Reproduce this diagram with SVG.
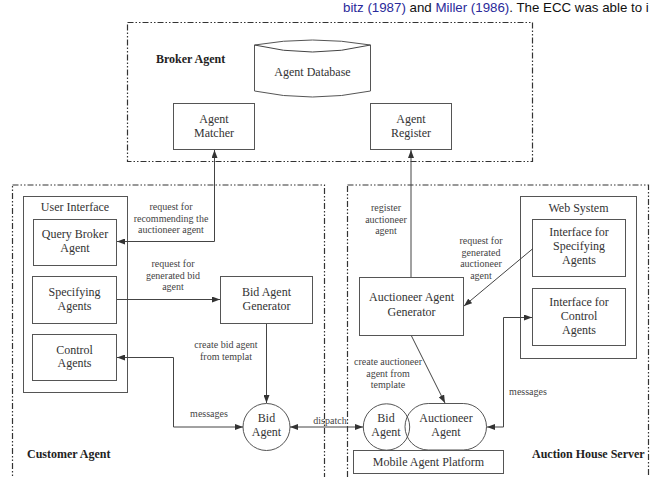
<svg xmlns="http://www.w3.org/2000/svg" width="657" height="477" viewBox="0 0 657 477">
<defs>
<marker id="ah" viewBox="0 0 8 6" refX="8" refY="3" markerWidth="8" markerHeight="6" markerUnits="userSpaceOnUse" orient="auto-start-reverse">
<path d="M0,0 L8,3 L0,6 z" fill="#333"/>
</marker>
<style>
.t{font-family:"Liberation Serif","Times New Roman",serif;font-size:12px;fill:#333;text-anchor:middle}
.l{font-family:"Liberation Serif","Times New Roman",serif;font-size:10px;fill:#444;text-anchor:middle}
.b{font-family:"Liberation Serif","Times New Roman",serif;font-size:12px;font-weight:bold;fill:#222}
.box{fill:#fff;stroke:#555;stroke-width:1}
.grp{fill:none;stroke:#333;stroke-width:1.2;stroke-dasharray:6 2 1.5 2 1.5 2}
.c{fill:none;stroke:#444;stroke-width:1}
.pg{font-family:"Liberation Sans",Arial,sans-serif;font-size:13.3px;fill:#111}
</style>
</defs>
<rect width="657" height="477" fill="#fff"/>
<text class="pg" x="343" y="12"><tspan fill="#2a2a9a">bitz (1987)</tspan> and <tspan fill="#2a2a9a">Miller (1986)</tspan>. The ECC was able to i</text>

<g id="broker-agent">
<rect class="grp" x="127.5" y="22.5" width="405" height="139"/>
<text class="b" x="156" y="63">Broker Agent</text>
</g>
<g id="customer-agent">
<rect class="grp" x="12.5" y="185" width="312" height="310"/>
<text class="b" x="27" y="458">Customer Agent</text>
</g>
<g id="auction-house-server">
<rect class="grp" x="347.5" y="185" width="301" height="310"/>
<text class="b" x="532" y="458">Auction House Server</text>
</g>

<g id="agent-database">
<path class="box" d="M254.5,45 Q312.5,35 370.5,45 L370.5,91 Q312.5,103 254.5,91 Z"/>
<path class="c" d="M254.5,45 Q312.5,59 370.5,45"/>
<text class="t" x="312.5" y="76">Agent Database</text>
</g>
<g id="agent-matcher">
<rect class="box" x="173.5" y="103.5" width="81" height="46"/>
<text class="t" x="214" y="123">Agent</text>
<text class="t" x="214" y="137">Matcher</text>
</g>
<g id="agent-register">
<rect class="box" x="370.5" y="103.5" width="81" height="46"/>
<text class="t" x="411" y="123">Agent</text>
<text class="t" x="411" y="137">Register</text>
</g>

<g id="user-interface">
<rect class="box" x="23.5" y="196.5" width="104" height="196"/>
<text class="t" x="75" y="211">User Interface</text>
</g>
<g id="query-broker-agent">
<rect class="box" x="33.5" y="219.5" width="83" height="46"/>
<text class="t" x="75" y="238">Query Broker</text>
<text class="t" x="75" y="252">Agent</text>
</g>
<g id="specifying-agents">
<rect class="box" x="32.5" y="276.5" width="84" height="47"/>
<text class="t" x="74.5" y="296">Specifying</text>
<text class="t" x="74.5" y="310">Agents</text>
</g>
<g id="control-agents">
<rect class="box" x="32.5" y="334.5" width="84" height="46"/>
<text class="t" x="74.5" y="354">Control</text>
<text class="t" x="74.5" y="367">Agents</text>
</g>
<g id="bid-agent-generator">
<rect class="box" x="220.5" y="276.5" width="92" height="47"/>
<text class="t" x="266.5" y="296">Bid Agent</text>
<text class="t" x="266.5" y="310">Generator</text>
</g>
<g id="bid-agent-customer">
<circle class="box" cx="266.5" cy="427" r="23.5"/>
<text class="t" x="266.5" y="422">Bid</text>
<text class="t" x="266.5" y="436">Agent</text>
</g>

<g id="web-system">
<rect class="box" x="520.5" y="196.5" width="116" height="162"/>
<text class="t" x="578.5" y="212">Web System</text>
</g>
<g id="interface-specifying">
<rect class="box" x="532.5" y="219.5" width="93" height="57"/>
<text class="t" x="579" y="236">Interface for</text>
<text class="t" x="579" y="250">Specifying</text>
<text class="t" x="579" y="264">Agents</text>
</g>
<g id="interface-control">
<rect class="box" x="532.5" y="288.5" width="93" height="57"/>
<text class="t" x="579" y="306">Interface for</text>
<text class="t" x="579" y="320">Control</text>
<text class="t" x="579" y="334">Agents</text>
</g>
<g id="auctioneer-agent-generator">
<rect class="box" x="359.5" y="277.5" width="104" height="58"/>
<text class="t" x="411.5" y="301">Auctioneer Agent</text>
<text class="t" x="411.5" y="316">Generator</text>
</g>
<g id="auctioneer-agent">
<rect class="box" x="405" y="403.5" width="81.5" height="46.5" rx="23.25" ry="23.25"/>
<text class="t" x="446" y="422">Auctioneer</text>
<text class="t" x="446" y="436">Agent</text>
</g>
<g id="bid-agent-server">
<circle class="box" cx="386.5" cy="427" r="23.2" fill-opacity="0"/>
<text class="t" x="386" y="422">Bid</text>
<text class="t" x="386" y="436">Agent</text>
</g>
<g id="mobile-agent-platform">
<rect class="box" x="353.5" y="450.5" width="150" height="23"/>
<text class="t" x="428.5" y="466">Mobile Agent Platform</text>
</g>

<g id="connectors">
<path class="c" d="M214.5,150 L214.5,241.5 L117,241.5" marker-start="url(#ah)" marker-end="url(#ah)"/>
<path class="c" d="M117,299.5 L220,299.5" marker-end="url(#ah)"/>
<path class="c" d="M266.5,324 L266.5,403" marker-end="url(#ah)"/>
<path class="c" d="M117,357.5 L173.5,357.5 L173.5,427 L243,427" marker-start="url(#ah)" marker-end="url(#ah)"/>
<path class="c" d="M290,427 L363,427" marker-start="url(#ah)" marker-end="url(#ah)"/>
<path class="c" d="M411,277 L411,150" marker-end="url(#ah)"/>
<path class="c" d="M533,248.5 L464,306" marker-end="url(#ah)"/>
<path class="c" d="M411.5,336 L445,403" marker-end="url(#ah)"/>
<path class="c" d="M487,427 L503.5,427 L503.5,317.5 L532,317.5" marker-start="url(#ah)" marker-end="url(#ah)"/>
<text class="l" x="171" y="210">request for</text>
<text class="l" x="171" y="221.5">recommending the</text>
<text class="l" x="171" y="233">auctioneer agent</text>
<text class="l" x="173" y="267">request for</text>
<text class="l" x="173" y="278.5">generated bid</text>
<text class="l" x="173" y="290">agent</text>
<text class="l" x="226" y="348">create bid agent</text>
<text class="l" x="226" y="359.5">from templat</text>
<text class="l" x="209" y="417">messages</text>
<text class="l" x="330" y="424">dispatch</text>
<text class="l" x="386" y="211">register</text>
<text class="l" x="386" y="222.5">auctioneer</text>
<text class="l" x="386" y="234">agent</text>
<text class="l" x="481" y="244">request for</text>
<text class="l" x="481" y="255.5">generated</text>
<text class="l" x="481" y="267">auctioneer</text>
<text class="l" x="481" y="278.5">agent</text>
<text class="l" x="388" y="365">create auctioneer</text>
<text class="l" x="388" y="376.5">agent from</text>
<text class="l" x="388" y="388">template</text>
<text class="l" x="528" y="395">messages</text>
</g>
</svg>
